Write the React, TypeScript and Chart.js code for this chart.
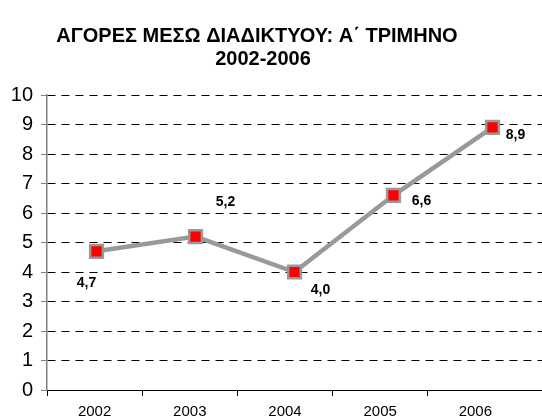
import React, { useEffect, useRef } from 'react';
import { Chart, registerables } from 'chart.js';

Chart.register(...registerables);

const titleLines = ['ΑΓΟΡΕΣ ΜΕΣΩ ΔΙΑΔΙΚΤΥΟΥ: Α΄ ΤΡΙΜΗΝΟ', '2002-2006'];
const categories = ['2002', '2003', '2004', '2005', '2006'];
const values = [4.7, 5.2, 4.0, 6.6, 8.9];
const valueLabels = values.map((v) => v.toFixed(1).replace('.', ','));
const yMin = 0;
const yMax = 10;
const yStep = 1;

const FONT = "Arial, 'Liberation Sans', sans-serif";

const titlePlugin = {
  id: 'customTitle',
  afterDraw(chart: any) {
    const ctx = chart.ctx;
    ctx.save();
    ctx.fillStyle = '#000';
    ctx.font = `bold 20px ${FONT}`;
    ctx.textAlign = 'center';
    ctx.textBaseline = 'middle';
    const pos = [
      [257, 36],
      [263, 59],
    ];
    titleLines.forEach((t, i) => ctx.fillText(t, pos[i][0], pos[i][1]));
    ctx.restore();
  },
};

const valueLabelPlugin = {
  id: 'valueLabels',
  afterDatasetsDraw(chart: any) {
    const ctx = chart.ctx;
    const meta = chart.getDatasetMeta(0);
    const offs = [
      [-10, 32],
      [30, -34],
      [26, 18],
      [28, 6],
      [23, 8],
    ];
    ctx.save();
    ctx.fillStyle = '#000';
    ctx.font = `bold 14px ${FONT}`;
    ctx.textAlign = 'center';
    ctx.textBaseline = 'middle';
    meta.data.forEach((pt: any, i: number) => {
      ctx.fillText(valueLabels[i], pt.x + offs[i][0], pt.y + offs[i][1]);
    });
    ctx.restore();
  },
};

export default function App() {
  const ref = useRef<HTMLCanvasElement | null>(null);

  useEffect(() => {
    if (!ref.current) return;
    const chart = new Chart(ref.current, {
      type: 'line',
      data: {
        labels: categories,
        datasets: [
          {
            data: values,
            xAxisID: 'x',
            yAxisID: 'y',
            borderColor: '#999999',
            borderWidth: 4.5,
            pointStyle: 'rect',
            pointRadius: 9,
            pointBorderWidth: 2.5,
            pointBorderColor: '#999999',
            pointBackgroundColor: '#ff0000',
            tension: 0,
            fill: false,
            clip: false,
          },
        ],
      },
      options: {
        responsive: false,
        animation: false,
        devicePixelRatio: 1,
        layout: { autoPadding: false, padding: { top: 95, left: 0, right: 0, bottom: 0 } },
        font: { family: FONT },
        plugins: {
          legend: { display: false },
          title: { display: false },
          tooltip: { enabled: false },
        },
        scales: {
          x: {
            type: 'category',
            labels: categories,
            offset: true,
            display: false,
          },
          xl: {
            type: 'linear',
            position: 'bottom',
            min: 0,
            max: 5.2,
            afterBuildTicks: (s: any) => {
              s.ticks = categories.map((_, i) => ({ value: i + 0.5 }));
            },
            ticks: {
              autoSkip: false,
              maxRotation: 0,
              callback: (_v: any, i: number) => categories[i],
              font: { family: FONT, size: 15 },
              color: '#000',
              padding: 7,
            },
            grid: {
              offset: true,
              drawOnChartArea: false,
              drawTicks: true,
              tickLength: 6,
              tickColor: (c: any) => (c.type === 'tick' ? '#000' : 'rgba(0,0,0,0)'),
              color: '#000',
            },
            border: { color: '#000', width: 1 },
            afterFit: (s: any) => {
              s.height = 29;
              s.paddingLeft = 0;
              s.paddingRight = 0;
            },
          } as any,
          y: {
            min: yMin,
            max: yMax,
            ticks: {
              stepSize: yStep,
              font: { family: FONT, size: 20 },
              color: '#000',
              padding: 8,
            },
            grid: {
              color: '#000',
              lineWidth: 1,
              tickLength: 6,
              tickColor: '#808080',
              tickBorderDash: [],
            },
            border: { color: '#808080', width: 1.5, dash: [8, 6] },
            afterFit: (s: any) => {
              s.width = 47;
              s.paddingTop = 0;
              s.paddingBottom = 0;
            },
          },
        },
      },
      plugins: [titlePlugin, valueLabelPlugin],
    } as any);
    return () => chart.destroy();
  }, []);

  return (
    <div style={{ position: 'absolute', left: 0, top: 0, width: 542, height: 419, background: '#fff' }}>
      <canvas ref={ref} width={542} height={419} />
    </div>
  );
}
